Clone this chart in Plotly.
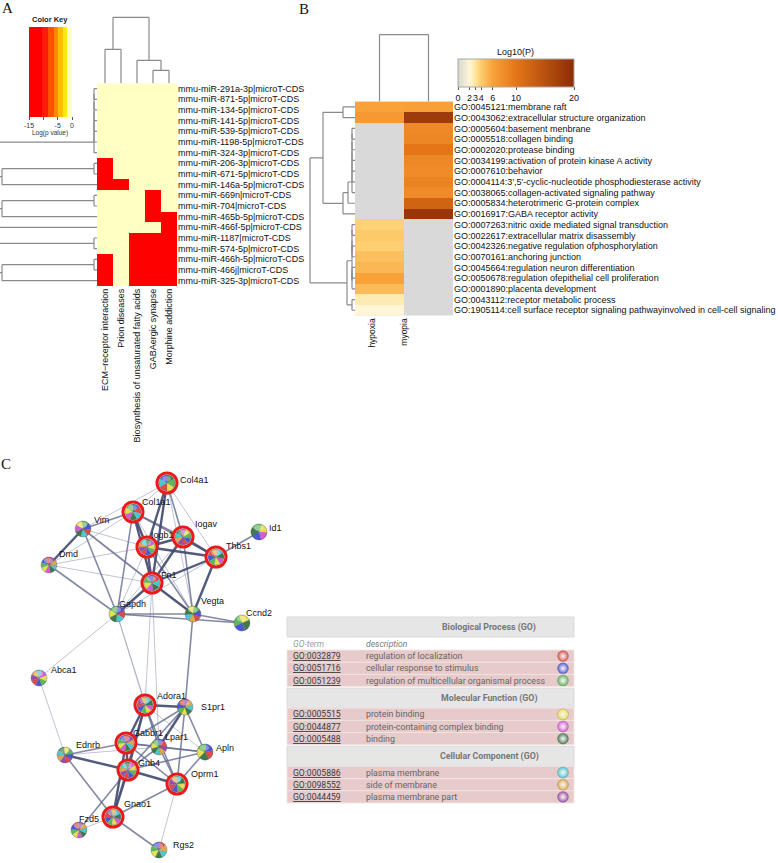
import numpy as np
import plotly.graph_objects as go

W, H = 778, 863
def X(px): return px / W
def Y(py): return 1 - py / H

# ---------------- Panel A data ----------------
a_col_labels = ["ECM\u2212receptor interaction", "Prion diseases",
                "Biosynthesis of unsaturated fatty acids", "GABAergic synapse",
                "Morphine addiction"]
a_row_labels = ["mmu-miR-291a-3p|microT-CDS", "mmu-miR-871-5p|microT-CDS",
                "mmu-miR-134-5p|microT-CDS", "mmu-miR-141-5p|microT-CDS",
                "mmu-miR-539-5p|microT-CDS", "mmu-miR-1198-5p|microT-CDS",
                "mmu-miR-324-3p|microT-CDS", "mmu-miR-206-3p|microT-CDS",
                "mmu-miR-671-5p|microT-CDS", "mmu-miR-146a-5p|microT-CDS",
                "mmu-miR-669n|microT-CDS", "mmu-miR-704|microT-CDS",
                "mmu-miR-465b-5p|microT-CDS", "mmu-miR-466f-5p|microT-CDS",
                "mmu-miR-1187|microT-CDS", "mmu-miR-574-5p|microT-CDS",
                "mmu-miR-466h-5p|microT-CDS", "mmu-miR-466j|microT-CDS",
                "mmu-miR-325-3p|microT-CDS"]
a_logp = [
    [0, 0, 0, 0, 0], [0, 0, 0, 0, 0], [0, 0, 0, 0, 0], [0, 0, 0, 0, 0],
    [0, 0, 0, 0, 0], [0, 0, 0, 0, 0], [0, 0, 0, 0, 0],
    [-12, 0, 0, 0, 0], [-12, 0, 0, 0, 0], [-12, -12, 0, 0, 0],
    [0, 0, 0, -12, 0], [0, 0, 0, -12, 0], [0, 0, 0, -12, -12], [0, 0, 0, 0, -12],
    [0, 0, -12, -12, -12], [0, 0, -12, -12, -12],
    [-12, 0, -12, -12, -12], [-12, 0, -12, -12, -12], [-12, 0, -12, -12, -12],
]
key_breaks = [-15, -10.3, -8.3, -6.3, -4.8, -3.3, -1.7, 0]
key_colors = ["#FF0000", "#FF1C0A", "#FF5200", "#FF8A00", "#FFBE00", "#FFEA10", "#FFFFC4"]
key_ticks = [-15, -10, -5, 0]
key_ticktext = ["-15", "", "-5", "0"]

def chain(leaves, h):
    t = leaves[0]
    for l in leaves[1:]:
        t = (t, l, h)
    return t

a_col_tree = ((0, 1, 34), (2, (3, 4, 13), 23), 66)
a_row_tree = (((chain(list(range(7)), 3), ((7, 8, 3), 9, 95), 150),
               (((10, 11, 3), 12, 95), 13, 150), 200),
              ((14, 15, 3), ((16, 17, 3), 18, 95), 150), 200)

# ---------------- Panel B data ----------------
b_col_labels = ["hypoxia", "myopia"]
b_row_labels = ["GO:0045121:membrane raft",
                "GO:0043062:extracellular structure organization",
                "GO:0005604:basement menbrane",
                "GO:0005518:collagen binding",
                "GO:0002020:protease binding",
                "GO:0034199:activation of protein kinase A activity",
                "GO:0007610:behavior",
                "GO:0004114:3\u2032,5\u2032-cyclic-nucleotide phosphodiesterase activity",
                "GO:0038065:collagen-activated signaling pathway",
                "GO:0005834:heterotrimeric G-protein complex",
                "GO:0016917:GABA receptor activity",
                "GO:0007263:nitric oxide mediated signal transduction",
                "GO:0022617:extracellular matrix disassembly",
                "GO:0042326:negative regulation ofphosphorylation",
                "GO:0070161:anchoring junction",
                "GO:0045664:regulation neuron differentiation",
                "GO:0050678:regulation ofepithelial cell proliferation",
                "GO:0001890:placenta development",
                "GO:0043112:receptor metabolic process",
                "GO:1905114:cell surface receptor signaling pathwayinvolved in cell-cell signaling"]
b_hypoxia = [6.0, 6.8, None, None, None, None, None, None, None, None, None,
             3.8, 4.1, 3.9, 4.6, 5.0, 6.0, 4.8, 2.7, 2.0]
b_myopia = [6.2, 18.0, 8.2, 8.5, 10.0, 8.4, 8.0, 8.8, 8.0, 12.5, 18.5,
            None, None, None, None, None, None, None, None, None]
b_ticks = [0, 2, 3, 4, 6, 10, 20]
b_scale = [[0.0, "#D8D8D0"], [0.1, "#FFF6D8"], [0.15, "#FEE6A0"], [0.2, "#FDCC6C"],
           [0.3, "#F9A23A"], [0.5, "#E47618"], [1.0, "#8C2C06"]]
b_col_tree = (0, 1, 67)
b_row_tree = (((0, 1, 12), ((chain(list(range(2, 9)), 3), 9, 7), 10, 12), 32),
              ((((11, 12, 3), (13, 14, 3), 3), ((15, 16, 3), 17, 3), 3), (18, 19, 3), 8), 45)

# ---------------- Panel C data ----------------
node_names = ["Col4a1", "Col1a1", "Vim", "Iogav", "Iogb1", "Id1", "Thbs1", "Dmd", "Fn1",
              "Gapdh", "Vegta", "Ccnd2", "Abca1", "Adora1", "S1pr1", "Gabbr1", "Lpar1",
              "Apln", "Ednrb", "Gnb4", "Oprm1", "Gnao1", "Fzd5", "Rgs2"]
node_x = [167, 133, 83, 183, 147, 259, 216, 49, 152, 117, 193, 242, 39, 145, 185, 126,
          159, 205, 65, 128, 177, 113, 79, 159]
node_y = [483, 512, 529, 537, 547, 532, 557, 565, 583, 614, 614, 623, 678, 705, 707, 743,
          747, 752, 755, 770, 784, 817, 830, 850]
node_ring = ["Col4a1", "Col1a1", "Iogav", "Iogb1", "Thbs1", "Fn1", "Adora1", "Gabbr1",
             "Gnb4", "Oprm1", "Gnao1"]
label_dx = [11, 7, 9, 10, 2, 8, 8, 8, 7, 0, 6, 2, 10, 10, 14, 5, 4, 9, 9, 8, 12, 9, -2, 12]
label_dy = [-3, -10, -9, -13, -12, -4, -11, -11, -8, -10, -13, -10, -8, -9, 0, -10, -10,
            -4, -10, -7, -10, -13, -11, -5]
node_terms = [
    [5, 1, 6, 0, 3, 2], [0, 1, 2, 3, 4, 5, 6], [0, 1, 2, 3, 4, 5, 6],
    [0, 1, 2, 3, 4, 5, 6, 7, 8], [0, 1, 2, 3, 4, 5, 6, 7, 8], [5, 1, 4, 3, 2],
    [0, 1, 2, 3, 4, 5, 6, 7], [0, 1, 2, 3, 4, 5, 6, 7, 8], [0, 1, 2, 3, 4, 5, 6],
    [0, 1, 2, 3, 5, 6], [0, 1, 2, 3, 5, 6, 7], [1, 5, 3, 2],
    [0, 1, 2, 3, 4, 6, 7, 8], [0, 1, 2, 3, 4, 5, 6, 7, 8], [0, 1, 2, 3, 5, 6, 7, 8],
    [0, 1, 2, 3, 4, 5, 6, 7, 8], [0, 1, 2, 3, 5, 6, 7, 8], [0, 1, 2, 3, 5],
    [0, 1, 2, 3, 5, 6, 7, 8], [0, 1, 2, 3, 4, 5, 6, 7, 8], [0, 1, 2, 3, 5, 6, 7, 8],
    [0, 1, 2, 3, 4, 5, 6, 7, 8], [0, 1, 2, 3, 4, 5, 6, 7, 8], [0, 1, 2, 3, 5, 6, 7]]
edges = [
    ("Col4a1", "Col1a1", 1), ("Col4a1", "Iogb1", 3), ("Col4a1", "Fn1", 3), ("Col4a1", "Iogav", 2),
    ("Col4a1", "Thbs1", 1), ("Col4a1", "Vim", 1), ("Col4a1", "Vegta", 1),
    ("Col1a1", "Vim", 2), ("Col1a1", "Iogb1", 3), ("Col1a1", "Iogav", 2), ("Col1a1", "Fn1", 3),
    ("Col1a1", "Thbs1", 2), ("Col1a1", "Dmd", 1), ("Col1a1", "Gapdh", 2), ("Col1a1", "Vegta", 1),
    ("Vim", "Dmd", 3), ("Vim", "Gapdh", 2), ("Vim", "Fn1", 2), ("Vim", "Iogb1", 1), ("Vim", "Vegta", 1),
    ("Iogav", "Iogb1", 3), ("Iogav", "Fn1", 3), ("Iogav", "Thbs1", 3), ("Iogav", "Vegta", 2),
    ("Iogav", "Gapdh", 1), ("Iogb1", "Fn1", 3), ("Iogb1", "Thbs1", 3), ("Iogb1", "Gapdh", 1),
    ("Iogb1", "Vegta", 2), ("Thbs1", "Id1", 2), ("Thbs1", "Fn1", 3), ("Thbs1", "Vegta", 3),
    ("Thbs1", "Gapdh", 1), ("Dmd", "Gapdh", 2), ("Dmd", "Fn1", 1), ("Dmd", "Iogb1", 1),
    ("Fn1", "Gapdh", 3), ("Fn1", "Vegta", 3), ("Fn1", "Adora1", 1), ("Fn1", "Lpar1", 1),
    ("Gapdh", "Vegta", 2), ("Gapdh", "Ccnd2", 2), ("Gapdh", "Abca1", 1), ("Gapdh", "Adora1", 1),
    ("Gapdh", "Lpar1", 1), ("Vegta", "Ccnd2", 2), ("Vegta", "S1pr1", 2), ("Abca1", "Ednrb", 1),
    ("Adora1", "S1pr1", 3), ("Adora1", "Gabbr1", 3), ("Adora1", "Lpar1", 2), ("Adora1", "Gnb4", 3),
    ("Adora1", "Oprm1", 2), ("Adora1", "Gnao1", 2), ("Adora1", "Apln", 1),
    ("S1pr1", "Lpar1", 3), ("S1pr1", "Gabbr1", 2), ("S1pr1", "Gnb4", 2), ("S1pr1", "Apln", 2),
    ("S1pr1", "Oprm1", 2), ("Gabbr1", "Gnb4", 3), ("Gabbr1", "Ednrb", 2), ("Gabbr1", "Lpar1", 2),
    ("Gabbr1", "Gnao1", 3), ("Gabbr1", "Oprm1", 2), ("Gabbr1", "Apln", 2), ("Lpar1", "Gnb4", 2),
    ("Lpar1", "Apln", 2), ("Lpar1", "Oprm1", 2), ("Lpar1", "Ednrb", 1), ("Apln", "Oprm1", 2),
    ("Apln", "Gnb4", 2), ("Ednrb", "Gnb4", 3), ("Ednrb", "Gnao1", 2), ("Gnb4", "Gnao1", 3),
    ("Gnb4", "Oprm1", 3), ("Gnb4", "Fzd5", 2), ("Oprm1", "Gnao1", 2), ("Oprm1", "Rgs2", 1),
    ("Gnao1", "Fzd5", 1), ("Gnao1", "Rgs2", 2)]

term_colors = ["#DC4A4A", "#4A56D6", "#5CB85C", "#E6E04E", "#D65AD6", "#3F7A4C",
               "#4CC8D2", "#E0A84A", "#9A4AAA"]
tbl_sections = ["Biological Process (GO)", "Molecular Function (GO)", "Cellular Component (GO)"]
tbl_ids = [["GO:0032879", "GO:0051716", "GO:0051239"],
           ["GO:0005515", "GO:0044877", "GO:0005488"],
           ["GO:0005886", "GO:0098552", "GO:0044459"]]
tbl_desc = [["regulation of localization", "cellular response to stimulus",
             "regulation of multicellular organismal process"],
            ["protein binding", "protein-containing complex binding", "binding"],
            ["plasma membrane", "side of membrane", "plasma membrane part"]]

# ---------------- helpers ----------------
def dendro_segments(tree):
    xs, ys = [], []
    def rec(t):
        if isinstance(t, int):
            return float(t), 0.0
        l, r, h = t
        pl, hl = rec(l)
        pr, hr = rec(r)
        for p, q in (((pl, hl), (pl, h)), ((pr, hr), (pr, h)), ((pl, h), (pr, h))):
            xs.extend([p[0], q[0], None])
            ys.extend([p[1], q[1], None])
        return (pl + pr) / 2, h
    rec(tree)
    return xs, ys

FONT = "Liberation Sans, Arial, sans-serif"
DCOL = "#8a8a8a"
fig = go.Figure()

def ann(x, y, text, size, color, family=FONT, xanchor="center", yanchor="middle", **kw):
    d = dict(x=x, y=y, text=text, showarrow=False, xanchor=xanchor, yanchor=yanchor,
             font=dict(size=size, color=color, family=family))
    d.setdefault("xref", "paper")
    d.setdefault("yref", "paper")
    d.update(kw)
    return d

# --- Heatmap A ---
cs_a = []
for i, c in enumerate(key_colors):
    cs_a += [[(key_breaks[i] + 15) / 15, c], [(key_breaks[i + 1] + 15) / 15, c]]
fig.add_trace(go.Heatmap(
    z=a_logp, x=list(range(5)), y=list(range(19)), zmin=-15, zmax=0, colorscale=cs_a,
    xaxis="x", yaxis="y", hoverinfo="skip",
    colorbar=dict(orientation="h", x=X(29), xanchor="left", y=Y(27), yanchor="top",
                  len=43, lenmode="pixels", thickness=90, thicknessmode="pixels",
                  xpad=0, ypad=0, outlinewidth=0, tickvals=key_ticks, ticktext=key_ticktext,
                  ticks="outside", ticklen=3, tickwidth=1, tickcolor="#555", tickangle=0,
                  tickfont=dict(size=7, color="#333", family=FONT))))

# --- Heatmap B ---
zb = np.array([[np.nan if h is None else h, np.nan if m is None else m]
               for h, m in zip(b_hypoxia, b_myopia)], dtype=float)
fig.add_trace(go.Heatmap(
    z=zb, x=[0, 1], y=list(range(20)), zmin=0, zmax=20, colorscale=b_scale,
    xaxis="x2", yaxis="y2", hoverinfo="skip",
    colorbar=dict(orientation="h", x=X(458), xanchor="left", y=Y(59), yanchor="top",
                  len=116, lenmode="pixels", thickness=28, thicknessmode="pixels",
                  xpad=0, ypad=0, outlinecolor="#A8A8A8", outlinewidth=1,
                  tickvals=b_ticks, ticks="outside", ticklen=3, tickcolor="#555", tickangle=0,
                  tickfont=dict(size=9, color="#111", family=FONT))))

# --- dendrograms ---
for tree, xa, ya, horiz in ((a_col_tree, "x3", "y3", False), (a_row_tree, "x4", "y4", True),
                            (b_col_tree, "x5", "y5", False), (b_row_tree, "x6", "y6", True)):
    dx, dy = dendro_segments(tree)
    if horiz:
        dx, dy = dy, dx
    fig.add_trace(go.Scatter(x=dx, y=dy, mode="lines", line=dict(color=DCOL, width=1.2),
                             xaxis=xa, yaxis=ya, hoverinfo="skip", showlegend=False))

# --- network edges ---
idx = {n: i for i, n in enumerate(node_names)}
edge_style = {1: ("rgba(150,156,182,0.6)", 1.0), 2: ("rgba(100,108,142,0.8)", 1.6),
              3: ("rgba(64,72,108,0.9)", 2.4)}
for w in (1, 2, 3):
    ex, ey = [], []
    for a, b, ww in edges:
        if ww == w:
            ex += [node_x[idx[a]], node_x[idx[b]], None]
            ey += [node_y[idx[a]], node_y[idx[b]], None]
    col, lw = edge_style[w]
    fig.add_trace(go.Scatter(x=ex, y=ey, mode="lines", line=dict(color=col, width=lw),
                             xaxis="x7", yaxis="y7", hoverinfo="skip", showlegend=False))

rx = [node_x[idx[n]] for n in node_ring]
ry = [node_y[idx[n]] for n in node_ring]
fig.add_trace(go.Scatter(x=rx, y=ry, mode="markers",
                         marker=dict(size=20, color="white", line=dict(color="#EA1A1A", width=3)),
                         xaxis="x7", yaxis="y7", hoverinfo="skip", showlegend=False))
R = 8
shapes, annots = [], []
for i, n in enumerate(node_names):
    px, py = node_x[i], node_y[i]
    terms = node_terms[i]
    fig.add_trace(go.Pie(values=[1] * len(terms), labels=[str(t) for t in terms],
                         marker=dict(colors=[term_colors[t] for t in terms],
                                     line=dict(color="rgba(90,90,90,0.35)", width=0.4)),
                         domain=dict(x=[X(px - R), X(px + R)], y=[Y(py + R), Y(py - R)]),
                         textinfo="none", hoverinfo="skip", sort=False, showlegend=False,
                         rotation=(i * 47) % 360))
    shapes.append(dict(type="circle", xref="x7", yref="y7", x0=px - 5, x1=px + 4,
                       y0=py - 7, y1=py - 1.5, fillcolor="rgba(255,255,255,0.35)",
                       line=dict(width=0), layer="above"))
    shapes.append(dict(type="circle", xref="x7", yref="y7", x0=px - R, x1=px + R,
                       y0=py - R, y1=py + R, fillcolor="rgba(0,0,0,0)",
                       line=dict(color="rgba(90,90,90,0.45)", width=0.6), layer="above"))
    annots.append(ann(px, py, n, 9, "#111", xanchor="left", xref="x7", yref="y7",
                      xshift=label_dx[i], yshift=-label_dy[i]))

# --- table ---
tx0, tx1 = 287, 574
hdr_h, colhdr_h, row_h, gap = 20, 13, 12.2, 1.6
ycur = 617.0
ball_x, ball_y, ball_c = [], [], []
k = 0
for s, sec in enumerate(tbl_sections):
    shapes.append(dict(type="rect", xref="paper", yref="paper", x0=X(tx0), x1=X(tx1),
                       y0=Y(ycur + hdr_h), y1=Y(ycur), fillcolor="#E6E6E6",
                       line=dict(color="#DADADA", width=1), layer="below"))
    annots.append(ann(X(489), Y(ycur + hdr_h / 2), "<b>" + sec + "</b>", 8.8, "#767676", "Roboto"))
    ycur += hdr_h
    if s == 0:
        annots.append(ann(X(291), Y(ycur + colhdr_h / 2), "<i>GO-term</i>", 8.6, "#9a9a9a",
                          "Roboto", xanchor="left"))
        annots.append(ann(X(364), Y(ycur + colhdr_h / 2), "<i>description</i>", 8.6, "#7a7a7a",
                          "Roboto", xanchor="left"))
        ycur += colhdr_h
    for r in range(3):
        shapes.append(dict(type="rect", xref="paper", yref="paper", x0=X(tx0), x1=X(tx1),
                           y0=Y(ycur + row_h), y1=Y(ycur), fillcolor="#E7CACA",
                           line=dict(color="#F3E4E4", width=0.8), layer="below"))
        yc = ycur + row_h / 2
        annots.append(ann(X(291), Y(yc), "<u>" + tbl_ids[s][r] + "</u>", 8.6, "#3a3a3a",
                          "Roboto", xanchor="left"))
        annots.append(ann(X(364), Y(yc), tbl_desc[s][r], 8.8, "#666666", "Roboto",
                          xanchor="left"))
        ball_x.append(563)
        ball_y.append(yc)
        ball_c.append(term_colors[k])
        k += 1
        ycur += row_h
    ycur += gap

fig.add_trace(go.Scatter(x=ball_x, y=ball_y, mode="markers",
                         marker=dict(size=11, color=ball_c,
                                     line=dict(color="rgba(80,80,80,0.4)", width=0.5),
                                     gradient=dict(type="radial", color="rgba(255,255,255,0.75)")),
                         xaxis="x7", yaxis="y7", hoverinfo="skip", showlegend=False))

shapes.append(dict(type="rect", xref="x2 domain", yref="y2 domain", x0=0, x1=1, y0=0, y1=1,
                   fillcolor="#D9D9D9", line=dict(width=0), layer="below"))

SERIF = "Liberation Serif, Times New Roman, serif"
for t, px, py in (("A", 7, 8), ("B", 304, 9), ("C", 6, 464)):
    annots.append(ann(X(px), Y(py), t, 15, "#111", SERIF))
annots.append(ann(X(50), Y(20), "<b>Color Key</b>", 7.5, "#222"))
annots.append(ann(X(50), Y(133), "Log(p value)", 6.5, "#333"))
annots.append(ann(X(515), Y(52), "Log10(P)", 9, "#111"))

hidden = dict(visible=False, showgrid=False, zeroline=False)
fig.update_layout(
    width=W, height=H, autosize=False, margin=dict(l=0, r=0, t=0, b=0),
    paper_bgcolor="white", plot_bgcolor="rgba(0,0,0,0)", showlegend=False,
    shapes=shapes, annotations=annots,
    xaxis=dict(domain=[X(97), X(177)], range=[-0.5, 4.5], anchor="y", tickmode="array",
               tickvals=list(range(5)), ticktext=a_col_labels, tickangle=-90, ticks="",
               tickfont=dict(size=9, color="#111", family=FONT), showgrid=False,
               zeroline=False, showline=False),
    yaxis=dict(domain=[Y(286), Y(83.3)], range=[18.5, -0.5], anchor="x", side="right",
               tickmode="array", tickvals=list(range(19)), ticktext=a_row_labels, ticks="",
               tickfont=dict(size=9, color="#111", family=FONT), showgrid=False,
               zeroline=False, showline=False),
    xaxis2=dict(domain=[X(355), X(453)], range=[-0.5, 1.5], anchor="y2", tickmode="array",
                tickvals=[-0.15, 0.5], ticktext=b_col_labels, tickangle=-90, ticks="",
                tickfont=dict(size=8.5, color="#111", family=FONT), showgrid=False,
                zeroline=False, showline=False),
    yaxis2=dict(domain=[Y(315.6), Y(101.6)], range=[19.5, -0.5], anchor="x2", side="right",
                tickmode="array", tickvals=list(range(20)), ticktext=b_row_labels, ticks="",
                tickfont=dict(size=9, color="#111", family=FONT), showgrid=False,
                zeroline=False, showline=False),
    xaxis3=dict(domain=[X(97), X(177)], range=[-0.5, 4.5], anchor="y3", **hidden),
    yaxis3=dict(domain=[Y(83.3), Y(15)], range=[0, 68.3], anchor="x3", **hidden),
    xaxis4=dict(domain=[0, X(97)], range=[97, 0], anchor="y4", **hidden),
    yaxis4=dict(domain=[Y(286), Y(83.3)], range=[18.5, -0.5], anchor="x4", **hidden),
    xaxis5=dict(domain=[X(355), X(453)], range=[-0.5, 1.5], anchor="y5", **hidden),
    yaxis5=dict(domain=[Y(101.6), Y(33)], range=[0, 68.6], anchor="x5", **hidden),
    xaxis6=dict(domain=[X(305), X(355)], range=[50, 0], anchor="y6", **hidden),
    yaxis6=dict(domain=[Y(315.6), Y(101.6)], range=[19.5, -0.5], anchor="x6", **hidden),
    xaxis7=dict(domain=[0, 1], range=[0, W], anchor="y7", **hidden),
    yaxis7=dict(domain=[0, 1], range=[H, 0], anchor="x7", **hidden),
)

fig.write_html("out.html", config={"displayModeBar": False},
               post_script="document.body.style.margin='0px';document.body.style.overflow='hidden';")
